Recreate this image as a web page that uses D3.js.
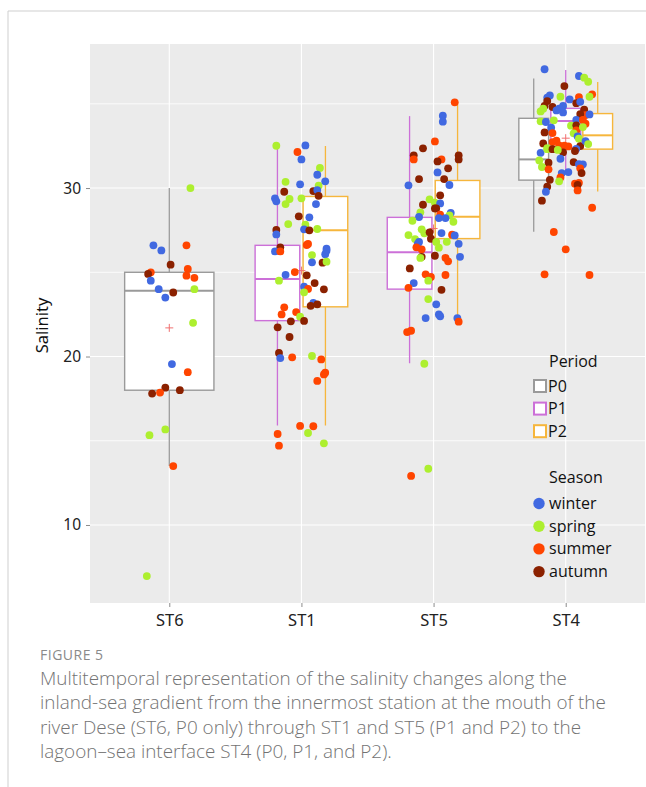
<!DOCTYPE html>
<html lang="en">
<head>
<meta charset="UTF-8">
<title>Salinity by station</title>
<script src="https://d3js.org/d3.v7.min.js"></script>
<style>
  body { margin: 0; background: #fff; }
  svg text { font-family: "Open Sans", "Noto Sans", sans-serif; }
</style>
</head>
<body>
<div id="chart"></div>
<script>
// stations along the x axis and which periods were sampled at each
const stations = ["ST6", "ST1", "ST5", "ST4"];
const periodsAt = { ST6: ["P0"], ST1: ["P1", "P2"], ST5: ["P1", "P2"], ST4: ["P0", "P1", "P2"] };
const periods = ["P0", "P1", "P2"];
const seasons = ["winter", "spring", "summer", "autumn"];

// box stats: [station, period, whiskerLow, q1, median, q3, whiskerHigh]
const boxStats = [
  ["ST6", "P0", 13.5, 18.0, 23.9, 25.0, 30.0],
  ["ST1", "P1", 15.9, 22.13, 24.6, 26.6, 32.5],
  ["ST1", "P2", 15.9, 22.95, 27.5, 29.5, 32.5],
  ["ST5", "P1", 19.6, 24.0, 26.19, 28.26, 34.27],
  ["ST5", "P2", 22.08, 27.0, 28.3, 30.45, 35.06],
  ["ST4", "P0", 27.4, 30.47, 31.7, 34.14, 36.5],
  ["ST4", "P1", 30.8, 32.4, 33.98, 34.73, 37.0],
  ["ST4", "P2", 29.8, 32.31, 33.13, 34.42, 36.3]
];

// station means (red +)
const stationMeans = [["ST6", 21.7], ["ST1", 25.1], ["ST5", 27.6], ["ST4", 32.96]];

// samples: [season, salinity, jitter (fraction of category step)]
const st6Points = [
  ["spring", 30.0, 0.16], ["winter", 26.6, -0.12], ["winter", 26.3, -0.06], ["summer", 26.6, 0.13],
  ["autumn", 25.45, 0.01], ["summer", 25.0, -0.14], ["autumn", 24.9, -0.16], ["summer", 25.2, 0.14],
  ["summer", 24.8, 0.13], ["summer", 24.67, 0.19], ["winter", 24.5, -0.14], ["winter", 24.0, -0.08],
  ["spring", 24.0, 0.19], ["autumn", 23.8, 0.03], ["winter", 23.5, -0.03], ["spring", 22.0, 0.18],
  ["winter", 19.55, 0.02], ["summer", 19.07, 0.14], ["autumn", 18.15, -0.03], ["autumn", 18.0, 0.08],
  ["summer", 17.86, -0.07], ["autumn", 17.8, -0.13], ["spring", 15.67, -0.03], ["spring", 15.33, -0.15],
  ["summer", 13.5, 0.03], ["spring", 6.97, -0.17]
];

const st1Points = [
  ["spring", 32.51, -0.19], ["winter", 32.53, 0.03], ["summer", 32.14, -0.03], ["winter", 31.70, 0.0],
  ["spring", 31.19, 0.14], ["winter", 30.79, 0.12], ["spring", 30.37, -0.12], ["winter", 30.22, -0.01],
  ["spring", 30.14, 0.13], ["winter", 30.40, 0.18], ["autumn", 29.78, -0.13], ["autumn", 29.82, 0.09],
  ["winter", 29.88, 0.12], ["autumn", 29.54, 0.13], ["winter", 29.39, -0.20], ["winter", 29.21, -0.19],
  ["spring", 29.35, -0.09], ["spring", 29.05, -0.12], ["spring", 29.39, 0.0], ["winter", 29.05, 0.11],
  ["autumn", 28.32, -0.02], ["winter", 28.26, 0.06], ["spring", 27.86, -0.10], ["spring", 27.82, 0.03],
  ["winter", 27.55, 0.02], ["autumn", 27.49, 0.06], ["spring", 27.57, 0.12], ["autumn", 27.51, -0.19],
  ["winter", 27.25, -0.19], ["summer", 26.62, 0.04], ["summer", 26.68, 0.05], ["autumn", 26.48, -0.16],
  ["winter", 26.24, -0.20], ["summer", 26.24, -0.16], ["winter", 26.40, 0.19], ["winter", 26.28, 0.19],
  ["winter", 26.07, 0.18], ["spring", 26.02, 0.08], ["winter", 25.59, 0.08], ["autumn", 25.57, 0.16],
  ["spring", 25.63, 0.19], ["summer", 25.01, -0.05], ["winter", 24.85, -0.12], ["autumn", 24.82, 0.04],
  ["spring", 24.50, -0.17], ["autumn", 24.36, 0.10], ["winter", 24.14, 0.02], ["summer", 24.01, 0.05],
  ["autumn", 23.99, 0.17], ["spring", 23.81, 0.02], ["winter", 23.19, 0.09], ["autumn", 23.01, 0.07],
  ["autumn", 23.10, 0.12], ["summer", 22.92, -0.13], ["summer", 22.50, -0.15], ["summer", 22.64, -0.04],
  ["spring", 22.36, -0.01], ["autumn", 22.09, -0.08], ["autumn", 22.11, 0.02], ["autumn", 21.73, -0.18],
  ["autumn", 21.16, -0.09], ["autumn", 20.21, -0.17], ["winter", 19.91, -0.16], ["summer", 19.95, -0.07],
  ["spring", 20.03, 0.08], ["summer", 19.83, 0.15], ["summer", 19.04, 0.18], ["summer", 18.94, 0.17],
  ["summer", 18.55, 0.12], ["summer", 15.88, -0.01], ["summer", 15.86, 0.09], ["spring", 15.46, 0.05],
  ["summer", 15.40, -0.18], ["summer", 14.71, -0.17], ["spring", 14.85, 0.17]
];

const st5Points = [
  ["summer", 35.09, 0.16], ["winter", 34.29, 0.07], ["winter", 33.94, 0.07], ["summer", 32.77, 0.01],
  ["autumn", 32.36, -0.08], ["autumn", 31.94, -0.15], ["summer", 31.70, -0.15], ["autumn", 31.94, 0.19],
  ["autumn", 31.70, 0.19], ["summer", 31.70, 0.06], ["autumn", 31.58, 0.03], ["autumn", 31.17, 0.11],
  ["winter", 30.93, 0.03], ["autumn", 30.53, -0.11], ["autumn", 30.53, 0.08], ["winter", 30.16, -0.19],
  ["winter", 30.18, 0.12], ["autumn", 29.57, 0.05], ["spring", 29.33, -0.03], ["spring", 29.13, 0.01],
  ["winter", 29.09, 0.05], ["autumn", 29.01, -0.08], ["autumn", 28.79, 0.01], ["autumn", 28.79, 0.02],
  ["spring", 28.56, -0.10], ["summer", 28.42, 0.05], ["winter", 28.53, 0.13], ["spring", 28.38, 0.12],
  ["winter", 28.28, -0.11], ["winter", 28.22, 0.04], ["winter", 28.22, 0.09], ["spring", 28.06, -0.16],
  ["spring", 28.00, 0.15], ["spring", 27.55, -0.09], ["spring", 27.31, -0.07], ["autumn", 27.37, -0.03],
  ["spring", 27.21, -0.19], ["winter", 27.33, 0.06], ["summer", 27.23, 0.14], ["winter", 27.19, 0.16],
  ["autumn", 26.99, -0.02], ["spring", 26.97, -0.14], ["winter", 26.80, -0.11], ["winter", 26.68, -0.12],
  ["spring", 26.80, 0.02], ["spring", 26.81, 0.10], ["winter", 26.69, 0.19], ["summer", 26.48, -0.13],
  ["summer", 26.36, -0.09], ["spring", 26.46, 0.04], ["autumn", 25.92, -0.09], ["spring", 25.85, -0.10],
  ["autumn", 25.98, 0.01], ["summer", 25.86, 0.09], ["summer", 25.65, 0.11], ["winter", 25.92, 0.20],
  ["autumn", 25.23, -0.18], ["summer", 24.88, -0.06], ["summer", 24.72, -0.02], ["summer", 24.84, 0.09],
  ["spring", 24.50, -0.04], ["winter", 24.36, -0.15], ["summer", 24.08, -0.19], ["autumn", 23.96, 0.06],
  ["spring", 23.41, -0.04], ["winter", 23.10, 0.02], ["winter", 22.28, -0.06], ["winter", 22.50, 0.04],
  ["winter", 22.39, 0.05], ["winter", 22.28, 0.18], ["summer", 22.07, 0.19], ["summer", 21.45, -0.20],
  ["summer", 21.53, -0.17], ["spring", 19.57, -0.07], ["spring", 13.34, -0.04], ["summer", 12.91, -0.17]
];

const st4Points = [
  ["winter", 37.05, -0.16], ["winter", 36.65, 0.10], ["spring", 36.55, 0.14], ["spring", 36.31, 0.17],
  ["autumn", 36.05, -0.01], ["summer", 35.56, 0.20], ["spring", 35.42, 0.18], ["winter", 35.50, -0.12],
  ["winter", 35.36, -0.14], ["spring", 35.42, -0.04], ["winter", 35.26, 0.03], ["summer", 35.40, 0.10],
  ["autumn", 35.16, -0.14], ["autumn", 35.04, 0.08], ["winter", 35.12, 0.11], ["autumn", 34.88, -0.16],
  ["autumn", 34.81, -0.10], ["winter", 34.87, -0.02], ["spring", 34.71, -0.17], ["spring", 34.55, -0.19],
  ["winter", 34.71, -0.05], ["winter", 34.49, -0.02], ["autumn", 34.65, 0.14], ["winter", 34.61, -0.07],
  ["summer", 34.33, 0.15], ["autumn", 34.39, 0.11], ["winter", 34.37, 0.18], ["spring", 33.96, -0.19],
  ["winter", 33.92, -0.15], ["spring", 34.02, -0.09], ["winter", 34.04, 0.08], ["summer", 34.04, 0.13],
  ["summer", 33.82, 0.15], ["winter", 33.58, -0.11], ["spring", 33.70, 0.04], ["autumn", 33.72, 0.08],
  ["summer", 33.42, 0.08], ["autumn", 33.30, -0.16], ["summer", 33.26, -0.10], ["spring", 33.25, 0.06],
  ["spring", 33.62, 0.13], ["winter", 33.07, 0.09], ["spring", 32.93, 0.10], ["autumn", 32.65, -0.17],
  ["summer", 32.73, -0.10], ["summer", 32.81, -0.07], ["summer", 32.53, -0.05], ["summer", 32.51, -0.01],
  ["summer", 32.47, 0.02], ["autumn", 32.49, 0.11], ["winter", 32.79, 0.15], ["spring", 32.61, 0.17],
  ["spring", 32.37, -0.14], ["winter", 32.33, 0.08], ["winter", 32.09, -0.19], ["spring", 32.31, -0.14],
  ["autumn", 32.31, -0.10], ["autumn", 32.12, -0.02], ["autumn", 32.20, 0.07], ["spring", 32.26, -0.06],
  ["winter", 31.74, -0.04], ["spring", 31.64, -0.20], ["autumn", 31.50, -0.13], ["autumn", 31.54, 0.06],
  ["winter", 31.42, 0.10], ["winter", 31.41, 0.13], ["spring", 31.25, -0.18], ["summer", 31.11, -0.13],
  ["summer", 31.17, 0.11], ["autumn", 30.89, 0.12], ["winter", 30.89, -0.03], ["winter", 30.95, 0.02],
  ["summer", 30.63, -0.04], ["autumn", 30.49, -0.12], ["spring", 30.40, -0.05], ["summer", 30.26, 0.07],
  ["summer", 30.31, 0.10], ["autumn", 30.18, 0.09], ["autumn", 30.08, -0.14], ["winter", 29.78, -0.15],
  ["summer", 29.86, 0.09], ["autumn", 29.25, -0.18], ["summer", 28.83, 0.20], ["summer", 27.39, -0.09],
  ["summer", 26.36, 0.0], ["summer", 24.88, -0.16], ["summer", 24.84, 0.18]
];

const pointsByStation = { ST6: st6Points, ST1: st1Points, ST5: st5Points, ST4: st4Points };

const yTicks = [10, 20, 30];
const yGrid = [10, 15, 20, 25, 30, 35];

const captionHead = "FIGURE 5";
const captionLines = [
  "Multitemporal representation of the salinity changes along the",
  "inland-sea gradient from the innermost station at the mouth of the",
  "river Dese (ST6, P0 only) through ST1 and ST5 (P1 and P2) to the",
  "lagoon\u2013sea interface ST4 (P0, P1, and P2)."
];

// ---- drawing ----
const width = 646, height = 787;
const panel = { left: 90, right: 645, top: 44, bottom: 603 };

const periodColor = d3.scaleOrdinal().domain(periods).range(["#9a9a9a", "#cc70d8", "#f6b63c"]);
const seasonColor = d3.scaleOrdinal().domain(seasons).range(["#4169e1", "#adef2f", "#ff4500", "#8b2100"]);

const svg = d3.select("#chart").append("svg")
  .attr("width", width)
  .attr("height", height);

// page frame lines
svg.append("line").attr("x1", 8).attr("x2", 8).attr("y1", 11).attr("y2", height).attr("stroke", "#cfcfcf");
svg.append("line").attr("x1", 8).attr("x2", width).attr("y1", 11).attr("y2", 11).attr("stroke", "#cfcfcf");

const x = d3.scalePoint().domain(stations).range([panel.left, panel.right]).padding(0.6);
const y = d3.scaleLinear().domain([5.37, 38.55]).range([panel.bottom, panel.top]);
const jitter = d3.scaleLinear().domain([-0.5, 0.5]).range([-x.step() / 2, x.step() / 2]);
const dodgeWidth = 96;

svg.append("rect")
  .attr("x", panel.left).attr("y", panel.top)
  .attr("width", panel.right - panel.left).attr("height", panel.bottom - panel.top)
  .attr("fill", "#ebebeb");

svg.append("g").selectAll("line")
  .data(yGrid).enter().append("line")
  .attr("x1", panel.left).attr("x2", panel.right)
  .attr("y1", d => y(d)).attr("y2", d => y(d))
  .attr("stroke", "#fff").attr("stroke-width", d => d % 10 === 0 ? 1.1 : 0.8);

svg.append("g").selectAll("line")
  .data(stations).enter().append("line")
  .attr("x1", d => x(d)).attr("x2", d => x(d))
  .attr("y1", panel.top).attr("y2", panel.bottom)
  .attr("stroke", "#fff").attr("stroke-width", 1.1);

// axes
const yAxis = svg.append("g")
  .attr("transform", "translate(" + panel.left + ",0)")
  .call(d3.axisLeft(y).tickValues(yTicks).tickSize(4).tickPadding(5));
yAxis.select(".domain").remove();
yAxis.selectAll(".tick line").attr("stroke", "#8c8c8c");
yAxis.selectAll("text").attr("font-size", 15.5).attr("fill", "#222")
  .style("font-family", "'Noto Sans', sans-serif");

const xAxis = svg.append("g")
  .attr("transform", "translate(0," + panel.bottom + ")")
  .call(d3.axisBottom(x).tickSize(4).tickPadding(7));
xAxis.select(".domain").remove();
xAxis.selectAll(".tick line").attr("stroke", "#8c8c8c");
xAxis.selectAll("text").attr("font-size", 16.5).attr("fill", "#222")
  .style("font-family", "'Noto Sans', sans-serif");

svg.append("text")
  .attr("transform", "translate(48," + ((panel.top + panel.bottom) / 2 + 2) + ") rotate(-90)")
  .attr("text-anchor", "middle")
  .attr("font-size", 16.5).attr("fill", "#111")
  .style("font-family", "'Noto Sans', sans-serif")
  .text("Salinity");

// boxes
function boxCenter(st, p) {
  const list = periodsAt[st];
  const slot = dodgeWidth / list.length;
  return x(st) + (list.indexOf(p) - (list.length - 1) / 2) * slot;
}
function boxWidth(st) {
  return dodgeWidth / periodsAt[st].length * 0.93;
}

const boxes = svg.append("g").selectAll("g")
  .data(boxStats).enter().append("g");

boxes.append("line")
  .attr("x1", d => boxCenter(d[0], d[1])).attr("x2", d => boxCenter(d[0], d[1]))
  .attr("y1", d => y(d[2])).attr("y2", d => y(d[6]))
  .attr("stroke", d => periodColor(d[1])).attr("stroke-width", 1.3);

boxes.append("rect")
  .attr("x", d => boxCenter(d[0], d[1]) - boxWidth(d[0]) / 2)
  .attr("width", d => boxWidth(d[0]))
  .attr("y", d => y(d[5]))
  .attr("height", d => y(d[3]) - y(d[5]))
  .attr("fill", "#fff")
  .attr("stroke", d => periodColor(d[1])).attr("stroke-width", 1.4);

boxes.append("line")
  .attr("x1", d => boxCenter(d[0], d[1]) - boxWidth(d[0]) / 2)
  .attr("x2", d => boxCenter(d[0], d[1]) + boxWidth(d[0]) / 2)
  .attr("y1", d => y(d[4])).attr("y2", d => y(d[4]))
  .attr("stroke", d => periodColor(d[1])).attr("stroke-width", 2);

// station means
svg.append("g").selectAll("path")
  .data(stationMeans).enter().append("path")
  .attr("d", d => {
    const cx = x(d[0]), cy = y(d[1]);
    return "M" + (cx - 4) + "," + cy + "H" + (cx + 4) + "M" + cx + "," + (cy - 4) + "V" + (cy + 4);
  })
  .attr("stroke", "#f07070").attr("stroke-width", 1);

// jittered samples
const allPoints = [];
stations.forEach(st => pointsByStation[st].forEach(p => allPoints.push({ st: st, season: p[0], v: p[1], j: p[2] })));

svg.append("g").selectAll("circle")
  .data(allPoints).enter().append("circle")
  .attr("cx", d => x(d.st) + jitter(d.j))
  .attr("cy", d => y(d.v))
  .attr("r", 3.9)
  .attr("fill", d => seasonColor(d.season));

// legend
const legend = svg.append("g").style("font-family", "'Noto Sans', sans-serif");
legend.append("text").attr("x", 549).attr("y", 367).attr("font-size", 16).attr("fill", "#111").text("Period");
const pl = legend.selectAll(".pl").data(periods).enter().append("g")
  .attr("transform", (d, i) => "translate(534," + (380 + i * 22.6) + ")");
pl.append("rect").attr("width", 12).attr("height", 12).attr("fill", "#fff")
  .attr("stroke", d => periodColor(d)).attr("stroke-width", 2);
pl.append("text").attr("x", 14).attr("y", 11.5).attr("font-size", 16).attr("fill", "#111").text(d => d);

legend.append("text").attr("x", 549).attr("y", 483).attr("font-size", 16).attr("fill", "#111").text("Season");
const sl = legend.selectAll(".sl").data(seasons).enter().append("g")
  .attr("transform", (d, i) => "translate(539," + (503.5 + i * 22.7) + ")");
sl.append("circle").attr("r", 5.7).attr("fill", d => seasonColor(d));
sl.append("text").attr("x", 10).attr("y", 5.5).attr("font-size", 16).attr("fill", "#111").text(d => d);

// caption
svg.append("text").attr("x", 40).attr("y", 660)
  .attr("font-size", 14).attr("fill", "#8a8a8a").attr("letter-spacing", 0.5)
  .text(captionHead);
svg.append("g").selectAll("text")
  .data(captionLines).enter().append("text")
  .attr("x", 40).attr("y", (d, i) => 685 + i * 24.4)
  .attr("font-size", 18.9).attr("font-weight", 300).attr("fill", "#737373")
  .text(d => d);
</script>
</body>
</html>
